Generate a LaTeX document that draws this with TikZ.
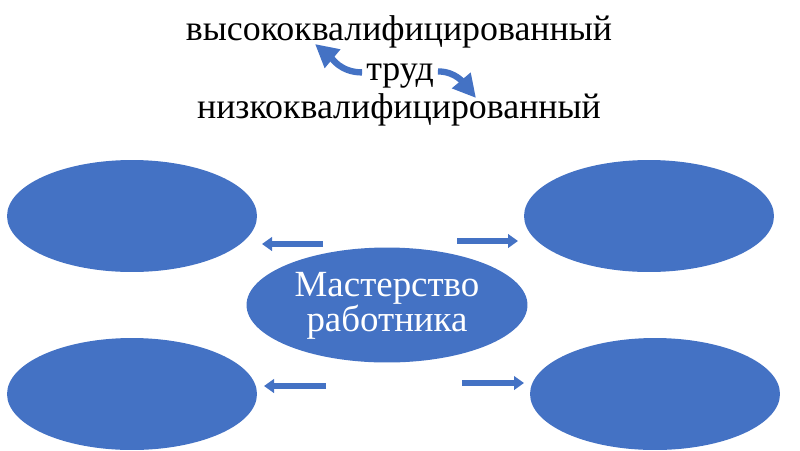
\documentclass[tikz,border=0pt]{standalone}
\usepackage{fontspec}
\setmainfont{Liberation Serif}
\usepackage{tikz}
\usetikzlibrary{shapes,arrows.meta,calc,positioning}

\definecolor{pptblue}{HTML}{4472C4}

\tikzset{
    oval/.style={ellipse, fill=pptblue, minimum width=5cm, minimum height=2.24cm, inner sep=0pt},
    blockarrow/.style={draw=pptblue, line width=3.4pt, -{Triangle[length=0.2cm, width=0.27cm]}},
    bentarrow/.style={draw=pptblue, line width=3.6pt, -{Triangle[length=0.46cm, width=0.46cm]}}
}

\begin{document}
\begin{tikzpicture}[x=0.02cm, y=-0.02cm]
    \useasboundingbox (0,0) rectangle (800,450);
    % top lines
    \node[anchor=base, font=\fontsize{20.4}{24}\selectfont] (high) at (399,40) {высококвалифицированный};
    \node[anchor=base, font=\fontsize{20.4}{24}\selectfont] (trud) at (400,80) {труд};
    \node[anchor=base, font=\fontsize{20.4}{24}\selectfont] (low) at (399,118) {низкоквалифицированный};
    \coordinate (tipl) at (315,44);
    \coordinate (tipr) at (476,98);
    \draw[bentarrow] ($(trud.west)+(2,-3)$) to[out=180, in=-40] (tipl);
    \draw[bentarrow] ($(trud.east)+(-2,-4)$) to[out=0, in=130] (tipr);
    % ovals
    \node[oval] (tl) at (132,216) {};
    \node[oval] (tr) at (649,216) {};
    \node[oval] (bl) at (132,394) {};
    \node[oval] (br) at (655,394) {};
    \node[oval, minimum width=5.62cm, minimum height=2.3cm] (main) at (387,305) {};
    \node[text=white, align=center, font=\fontsize{21}{20}\selectfont] (mainlabel) at (387,306) {Мастерство\\работника};
    % block arrows
    \coordinate (s1) at (323,244); \coordinate (e1) at (262,244);
    \coordinate (s2) at (457,241); \coordinate (e2) at (518,241);
    \coordinate (s3) at (326,386); \coordinate (e3) at (264,386);
    \coordinate (s4) at (462,383); \coordinate (e4) at (524,383);
    \draw[blockarrow] (s1) -- (e1);
    \draw[blockarrow] (s2) -- (e2);
    \draw[blockarrow] (s3) -- (e3);
    \draw[blockarrow] (s4) -- (e4);
\end{tikzpicture}
\end{document}
